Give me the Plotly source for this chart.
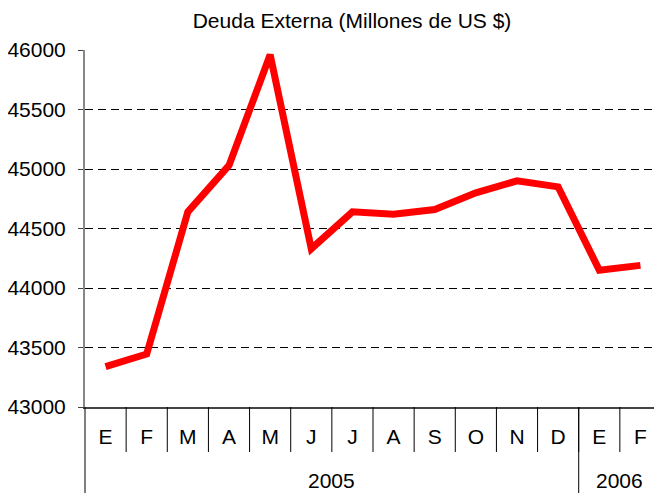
import plotly.graph_objects as go

months = ["E", "F", "M", "A", "M", "J", "J", "A", "S", "O", "N", "D", "E", "F"]
years = ["2005"] * 12 + ["2006"] * 2
deuda = [43340, 43445, 44640, 45030, 45960, 44330, 44640, 44620, 44660, 44800, 44900, 44850, 44150, 44190]
y_ticks = [43000, 43500, 44000, 44500, 45000, 45500, 46000]

# page is 662x493; the html body has an 8px margin, so the figure is offset
OFF = 8
W, H = 662 - OFF, 493 - OFF
ML, MR, MT, MB = 85 - OFF, 1, 50 - OFF, 86
plot_h = H - MT - MB
n = len(months)
xs = list(range(n))

FONT = "Liberation Sans, Arial, sans-serif"
FS = 21

fig = go.Figure()
fig.add_trace(go.Scatter(
    x=xs, y=deuda, mode="lines",
    line=dict(color="#ff0000", width=7),
    hoverinfo="y",
))

shapes = []
# month separators
for b in range(1, n):
    shapes.append(dict(type="line", xref="paper", yref="paper",
                       x0=b / n, x1=b / n, y0=0, y1=-45 / plot_h,
                       line=dict(color="#000000", width=1)))
# year dividers and labels
annotations = []
groups = []
start = 0
for i in range(1, n + 1):
    if i == n or years[i] != years[start]:
        groups.append((years[start], start, i - 1))
        start = i
for label, s, e in groups:
    shapes.append(dict(type="line", xref="paper", yref="paper",
                       x0=s / n, x1=s / n, y0=0, y1=-(MB + 2) / plot_h,
                       line=dict(color="#000000", width=1)))
    annotations.append(dict(text=label, xref="x", yref="paper",
                            x=(s + e) / 2, y=-73 / plot_h,
                            showarrow=False, xanchor="center", yanchor="middle",
                            font=dict(family=FONT, size=FS, color="#000")))

fig.update_layout(
    width=W, height=H,
    margin=dict(l=ML, r=MR, t=MT, b=MB, autoexpand=False),
    paper_bgcolor="white", plot_bgcolor="white",
    showlegend=False,
    title=dict(text="Deuda Externa (Millones de US $)", x=(352 - OFF) / W, xanchor="center",
               y=1 - (21 - OFF) / H, yanchor="middle",
               font=dict(family=FONT, size=FS, color="#000")),
    xaxis=dict(
        range=[-0.5, n - 0.5],
        tickvals=xs, ticktext=months,
        ticks="", showgrid=False, zeroline=False,
        showline=True, linecolor="#444444", linewidth=1.5,
        tickfont=dict(family=FONT, size=FS, color="#000"),
        ticklabelstandoff=10, automargin=False,
    ),
    yaxis=dict(
        range=[y_ticks[0], y_ticks[-1]],
        tickvals=y_ticks, ticktext=[str(v) for v in y_ticks],
        ticks="outside", ticklen=5, tickcolor="#444444",
        showgrid=True, gridcolor="#000000", gridwidth=1, griddash="8px,5px",
        zeroline=False,
        showline=True, linecolor="#888888", linewidth=2,
        tickfont=dict(family=FONT, size=FS, color="#000"),
        ticklabelstandoff=8, automargin=False,
    ),
    shapes=shapes,
    annotations=annotations,
)

fig.write_html("out.html")
